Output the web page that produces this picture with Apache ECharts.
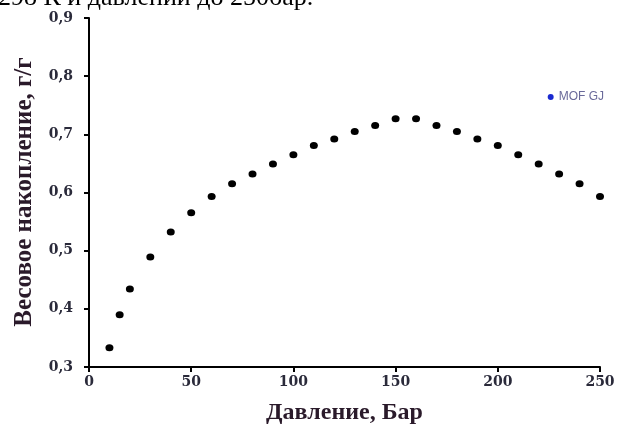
<!DOCTYPE html>
<html><head><meta charset="utf-8">
<script src="https://cdn.jsdelivr.net/npm/echarts@6/dist/echarts.min.js"></script>
<style>html,body{margin:0;padding:0;background:#fff}#c{width:619px;height:430px}</style>
</head><body><div id="c"></div>
<script>
const pressure = [10, 15, 20, 30, 40, 50, 60, 70, 80, 90, 100, 110, 120, 130, 140, 150, 160, 170, 180, 190, 200, 210, 220, 230, 240, 250];
const uptake = [0.333, 0.390, 0.434, 0.489, 0.532, 0.565, 0.593, 0.615, 0.632, 0.649, 0.665, 0.681, 0.692, 0.705, 0.715, 0.727, 0.727, 0.715, 0.705, 0.692, 0.681, 0.665, 0.649, 0.632, 0.615, 0.593];
const seriesName = 'MOF GJ';
const xTitle = 'Давление, Бар';
const yTitle = 'Весовое накопление, г/г';
const topText = '298 К и давлении до 250бар.';

const chart = echarts.init(document.getElementById('c'));
const serif = '"Liberation Serif","DejaVu Serif",serif';
const tickFont = '"DejaVu Serif",serif';
chart.setOption({
  animation: false,
  backgroundColor: '#fff',
  graphic: [
    {type: 'text', x: -2, y: -15, style: {text: topText, font: '26px ' + serif, fill: '#000'}},
    {type: 'text', x: 25, y: 192, rotation: Math.PI / 2,
     style: {text: yTitle, font: 'bold 25px ' + serif, fill: '#2a1a2a', align: 'center', verticalAlign: 'middle'}}
  ],
  legend: {
    right: 10, top: 86, itemWidth: 6, itemHeight: 6, itemGap: 4,
    textStyle: {fontSize: 12, color: '#6a6a9a', fontFamily: '"Liberation Sans",sans-serif'},
    data: [{name: seriesName, icon: 'circle', itemStyle: {color: '#1a2ad0', opacity: 1}}]
  },
  grid: {left: 89, right: 19, top: 18, bottom: 63, containLabel: false},
  xAxis: {
    type: 'value', min: 0, max: 250, interval: 50,
    name: xTitle, nameLocation: 'middle', nameGap: 34,
    nameTextStyle: {fontFamily: serif, fontWeight: 'bold', fontSize: 24, color: '#2a1a2a'},
    axisLine: {lineStyle: {color: '#000', width: 2}},
    axisTick: {show: true, inside: false, length: 5, lineStyle: {color: '#000', width: 2}},
    axisLabel: {fontFamily: tickFont, fontWeight: 'bold', fontSize: 14, color: '#2a2a3a', margin: 8},
    splitLine: {show: false}
  },
  yAxis: {
    type: 'value', min: 0.3, max: 0.9, interval: 0.1,
    axisLine: {show: true, lineStyle: {color: '#000', width: 2}},
    axisTick: {show: true, inside: false, length: 5, lineStyle: {color: '#000', width: 2}},
    axisLabel: {fontFamily: tickFont, fontWeight: 'bold', fontSize: 14, color: '#2a2a3a', margin: 16,
      formatter: v => v.toFixed(1).replace('.', ',')},
    splitLine: {show: false}
  },
  series: [{
    name: seriesName, type: 'scatter', symbol: 'circle', symbolSize: [8, 7],
    itemStyle: {color: '#000', opacity: 1},
    data: pressure.map((p, i) => [p, uptake[i]])
  }]
});
</script></body></html>
